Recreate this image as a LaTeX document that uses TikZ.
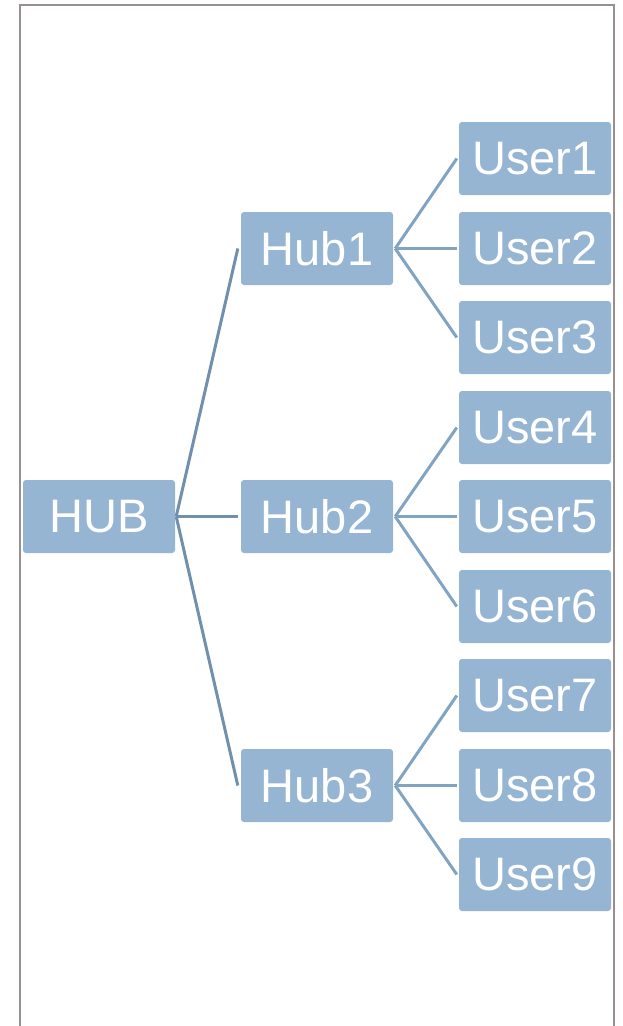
\documentclass[tikz,border=0pt]{standalone}
\usepackage{fontspec}
\setmainfont{Liberation Sans}
\definecolor{boxblue}{HTML}{95B5D3}
\definecolor{rootline}{HTML}{7090AC}
\definecolor{leafline}{HTML}{81A4C3}
\definecolor{framegray}{HTML}{9A8F8F}
\tikzset{
  treebox/.style={rectangle, rounded corners=3pt, fill=boxblue, text=white,
    minimum width=152pt, minimum height=73pt, inner sep=0pt,
    font=\fontsize{47}{56}\selectfont},
  rootlink/.style={draw=rootline, line width=3pt},
  leaflink/.style={draw=leafline, line width=3pt}
}
\begin{document}
\begin{tikzpicture}[x=1pt, y=-1pt]
  \useasboundingbox (0,0) rectangle (622,1026);
  % outer frame, open at the bottom
  \draw[framegray, line width=2pt] (19.5,1026) -- (19.5,5) -- (613.5,5) -- (613.5,1026);

  % root and second level
  \node[treebox] (hub)  at (99,516.5) {HUB};
  \node[treebox] (hub1) at (317,248.5) {Hub1};
  \node[treebox] (hub2) at (317,516.5) {Hub2};
  \node[treebox] (hub3) at (317,785.5) {Hub3};

  % leaves
  \node[treebox] (u1) at (535,158.5) {User1};
  \node[treebox] (u2) at (535,248.5) {User2};
  \node[treebox] (u3) at (535,337.5) {User3};
  \node[treebox] (u4) at (535,427.5) {User4};
  \node[treebox] (u5) at (535,516.5) {User5};
  \node[treebox] (u6) at (535,606.5) {User6};
  \node[treebox] (u7) at (535,695.5) {User7};
  \node[treebox] (u8) at (535,785.5) {User8};
  \node[treebox] (u9) at (535,874.5) {User9};

  % root connectors
  \foreach \h in {hub1,hub2,hub3}
    \draw[rootlink] ([xshift=1pt]hub.east) -- ([xshift=-3pt]\h.west);

  % hub-to-user connectors
  \foreach \h/\a/\b/\c in {hub1/u1/u2/u3, hub2/u4/u5/u6, hub3/u7/u8/u9}{
    \draw[leaflink] ([xshift=2pt]\h.east) -- ([xshift=-2pt]\a.west);
    \draw[leaflink] ([xshift=2pt]\h.east) -- ([xshift=-2pt]\b.west);
    \draw[leaflink] ([xshift=2pt]\h.east) -- ([xshift=-2pt]\c.west);
  }
\end{tikzpicture}
\end{document}
